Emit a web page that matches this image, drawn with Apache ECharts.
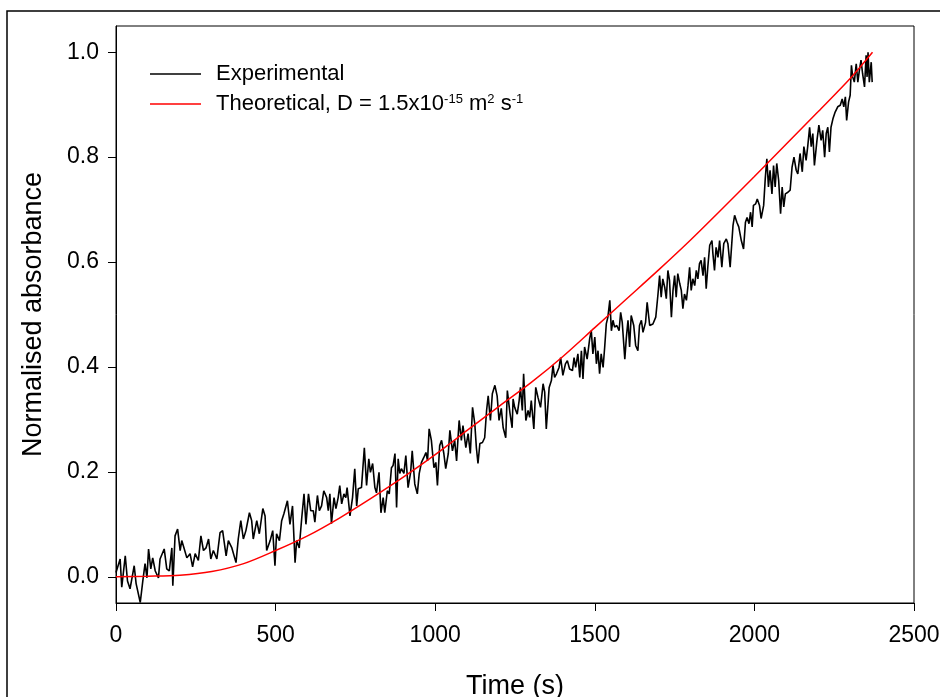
<!DOCTYPE html>
<html>
<head>
<meta charset="utf-8">
<title>Normalised absorbance vs time</title>
<script src="https://cdn.jsdelivr.net/npm/echarts@6/dist/echarts.min.js"></script>
<style>
  html, body { margin: 0; padding: 0; background: #fff; }
  #chart { width: 940px; height: 697px; }
</style>
</head>
<body>
<div id="chart"></div>
<script>
// measured absorbance, [time (s), normalised absorbance]
const expPoints = [
  [0, 0.008], [13, 0.034], [18, -0.02], [29, 0.04], [36, -0.008], [44, -0.023], [57, 0.021], [63, -0.013], [76, -0.049], [84, -0.008],
  [91, 0.025], [97, -0.002], [102, 0.053], [109, 0.015], [115, 0.036], [123, 0.011], [133, -0.002], [138, 0.034], [151, 0.053], [159, 0.015],
  [167, 0.011], [175, 0.055], [178, -0.017], [185, 0.078], [193, 0.091], [201, 0.05], [206, 0.069], [213, 0.055], [222, 0.036], [232, 0.044],
  [240, 0.019], [248, 0.044], [258, 0.031], [266, 0.078], [274, 0.05], [282, 0.055], [290, 0.072], [297, 0.034], [305, 0.05], [316, 0.034],
  [326, 0.084], [334, 0.088], [345, 0.04], [352, 0.069], [363, 0.055], [376, 0.027], [383, 0.072], [391, 0.107], [399, 0.072], [407, 0.088],
  [418, 0.122], [425, 0.107], [430, 0.072], [441, 0.107], [449, 0.082], [460, 0.13], [467, 0.116], [472, 0.05], [483, 0.069], [491, 0.088],
  [498, 0.021], [503, 0.082], [512, 0.069], [519, 0.107], [526, 0.12], [537, 0.145], [545, 0.1], [553, 0.135], [561, 0.027], [566, 0.069],
  [574, 0.055], [582, 0.113], [589, 0.158], [595, 0.1], [603, 0.158], [610, 0.126],
  [618, 0.126], [623, 0.104], [631, 0.155], [637, 0.126], [644, 0.135], [651, 0.164], [660, 0.151], [665, 0.126], [670, 0.158], [675, 0.101],
  [683, 0.151], [689, 0.13], [696, 0.151], [701, 0.174], [707, 0.139], [714, 0.158], [720, 0.151], [724, 0.17], [733, 0.116], [741, 0.151],
  [748, 0.206], [754, 0.135], [759, 0.168], [769, 0.17], [778, 0.246], [785, 0.174], [792, 0.225], [797, 0.199], [804, 0.216], [811, 0.17],
  [816, 0.16], [824, 0.199], [830, 0.122], [837, 0.151], [842, 0.122], [850, 0.164], [856, 0.158], [863, 0.208], [868, 0.212], [874, 0.235],
  [879, 0.132], [884, 0.225], [889, 0.197], [894, 0.206], [902, 0.197], [908, 0.231], [915, 0.17], [923, 0.199], [928, 0.24], [936, 0.177],
  [944, 0.158], [950, 0.197], [957, 0.218], [964, 0.227], [971, 0.237], [976, 0.221], [981, 0.282], [988, 0.26], [996, 0.208], [1002, 0.218],
  [1007, 0.174], [1014, 0.25], [1020, 0.26], [1027, 0.235], [1033, 0.206], [1041, 0.235], [1046, 0.279], [1054, 0.24], [1061, 0.26], [1067, 0.221],
  [1075, 0.298], [1082, 0.26], [1087, 0.288], [1096, 0.246], [1103, 0.273], [1110, 0.235], [1117, 0.323], [1124, 0.292], [1129, 0.246], [1134, 0.216],
  [1140, 0.254], [1148, 0.256], [1155, 0.265], [1161, 0.317], [1166, 0.345], [1173, 0.298], [1179, 0.349], [1187, 0.365], [1194, 0.345], [1200, 0.298],
  [1207, 0.321], [1213, 0.284], [1221, 0.265], [1226, 0.355], [1234, 0.313], [1241, 0.284],
  [1244, 0.339], [1249, 0.323], [1257, 0.31], [1263, 0.336], [1267, 0.361], [1273, 0.317], [1277, 0.387], [1284, 0.298], [1291, 0.317], [1296, 0.304],
  [1301, 0.336], [1309, 0.282], [1315, 0.361], [1322, 0.342], [1330, 0.323], [1338, 0.368], [1343, 0.352], [1348, 0.282], [1357, 0.361], [1364, 0.374],
  [1369, 0.403], [1374, 0.38], [1380, 0.387], [1388, 0.399], [1393, 0.418], [1400, 0.384], [1408, 0.406], [1414, 0.412], [1421, 0.396], [1430, 0.393],
  [1435, 0.418], [1440, 0.399], [1447, 0.425], [1453, 0.38], [1458, 0.431], [1463, 0.377], [1468, 0.438], [1476, 0.415], [1484, 0.454], [1489, 0.469],
  [1494, 0.425], [1500, 0.457], [1505, 0.406], [1510, 0.431], [1515, 0.387], [1520, 0.425], [1526, 0.399], [1531, 0.438], [1536, 0.482], [1541, 0.495],
  [1547, 0.527], [1552, 0.469], [1557, 0.489], [1562, 0.476], [1569, 0.479], [1576, 0.469], [1581, 0.504], [1586, 0.485], [1594, 0.415], [1599, 0.457],
  [1604, 0.489], [1609, 0.438], [1614, 0.498], [1622, 0.479], [1628, 0.441], [1635, 0.431], [1640, 0.479], [1646, 0.489], [1651, 0.466], [1659, 0.485],
  [1664, 0.523], [1672, 0.479], [1677, 0.476], [1682, 0.482], [1691, 0.495], [1698, 0.539], [1703, 0.574], [1708, 0.533], [1713, 0.568], [1719, 0.552],
  [1724, 0.53], [1729, 0.584], [1734, 0.565], [1740, 0.495], [1745, 0.546], [1750, 0.574], [1755, 0.533], [1760, 0.578], [1766, 0.559], [1771, 0.546],
  [1776, 0.511], [1781, 0.539], [1787, 0.527], [1792, 0.555], [1797, 0.59], [1802, 0.546], [1807, 0.568], [1813, 0.555], [1818, 0.584], [1823, 0.568],
  [1828, 0.597], [1833, 0.603], [1839, 0.574], [1844, 0.609], [1849, 0.549], [1854, 0.59], [1860, 0.632], [1867, 0.641],
  [1870, 0.616], [1875, 0.584], [1880, 0.628], [1886, 0.609], [1891, 0.641], [1898, 0.59], [1904, 0.635], [1912, 0.644], [1917, 0.635], [1924, 0.59],
  [1933, 0.67], [1938, 0.689], [1945, 0.676], [1951, 0.667], [1959, 0.641], [1966, 0.625], [1972, 0.676], [1977, 0.685], [1983, 0.673], [1988, 0.695],
  [1993, 0.667], [1997, 0.708], [2004, 0.711], [2009, 0.72], [2016, 0.708], [2021, 0.683], [2029, 0.708], [2034, 0.759], [2039, 0.797], [2044, 0.743],
  [2049, 0.775], [2055, 0.73], [2060, 0.784], [2065, 0.743], [2070, 0.788], [2076, 0.756], [2082, 0.692], [2087, 0.743], [2092, 0.705], [2097, 0.73],
  [2105, 0.733], [2112, 0.737], [2118, 0.781], [2124, 0.8], [2131, 0.775], [2136, 0.768], [2143, 0.807], [2150, 0.772], [2155, 0.82], [2162, 0.794],
  [2167, 0.82], [2173, 0.857], [2178, 0.82], [2183, 0.845], [2188, 0.784], [2196, 0.832], [2202, 0.861], [2209, 0.832], [2214, 0.851], [2220, 0.8],
  [2225, 0.845], [2230, 0.857], [2235, 0.81], [2240, 0.857], [2246, 0.873], [2253, 0.886], [2261, 0.896], [2269, 0.899], [2275, 0.911], [2280, 0.896],
  [2285, 0.915], [2289, 0.87], [2295, 0.905], [2300, 0.918], [2304, 0.975], [2308, 0.953], [2313, 0.943], [2319, 0.978], [2324, 0.943], [2329, 0.966],
  [2334, 0.985], [2339, 0.959], [2345, 0.934], [2350, 0.994], [2353, 0.953], [2356, 1.0], [2360, 0.943], [2366, 0.981], [2369, 0.943]
]

// model curve, D = 1.5e-15 m2/s
const theoTime = [0, 100, 200, 300, 400, 500, 600, 700, 800, 900, 1000, 1100, 1200,
  1300, 1400, 1500, 1600, 1700, 1800, 1900, 2000, 2100, 2200, 2300, 2370]
const theoAbs = [0, 0.001, 0.003, 0.01, 0.025, 0.05, 0.078, 0.112, 0.15, 0.19, 0.233, 0.279, 0.325,
  0.37, 0.42, 0.475, 0.53, 0.585, 0.642, 0.702, 0.763, 0.825, 0.887, 0.95, 1.0]

const yTicks = [0, 0.2, 0.4, 0.6, 0.8, 1.0]

const FONT = 'Liberation Sans, Arial, Helvetica, sans-serif'

const legendLabels = {
  Experimental: 'Experimental',
  Theoretical: 'Theoretical, D = 1.5x10{sup|-15} m{sup|2} s{sup|-1}'
}

const chart = echarts.init(document.getElementById('chart'), null, { renderer: 'canvas' })

chart.setOption({
  backgroundColor: '#fff',
  animation: false,
  graphic: [{
    // outer frame of the figure, runs off the right and bottom edges
    type: 'rect',
    shape: { x: 7, y: 11, width: 1000, height: 1000 },
    style: { fill: 'none', stroke: '#000', lineWidth: 1.5 },
    silent: true
  }],
  grid: {
    left: 116,
    top: 26,
    right: 26,
    bottom: 94,
    outerBoundsMode: 'none',
    show: true,
    borderColor: '#000',
    borderWidth: 1,
    backgroundColor: 'transparent'
  },
  legend: {
    orient: 'vertical',
    left: 150,
    top: 63,
    padding: 0,
    icon: 'rect',
    itemWidth: 51,
    itemHeight: 1.5,
    itemGap: 8,
    data: ['Experimental', 'Theoretical'],
    formatter: name => legendLabels[name],
    textStyle: {
      color: '#000',
      fontFamily: FONT,
      fontSize: 22,
      lineHeight: 22,
      padding: [0, 0, 0, 10],
      rich: {
        sup: { fontSize: 13, lineHeight: 22, fontFamily: FONT, color: '#000', verticalAlign: 'top', padding: [0, 0, 10, 0] }
      }
    }
  },
  xAxis: {
    type: 'value',
    min: 0,
    max: 2500,
    interval: 500,
    name: 'Time (s)',
    nameLocation: 'middle',
    nameGap: 70,
    nameTextStyle: { color: '#000', fontFamily: FONT, fontSize: 27, verticalAlign: 'top' },
    axisLine: { onZero: false, lineStyle: { color: '#000', width: 1 } },
    axisTick: { show: true, inside: false, length: 8, lineStyle: { color: '#000', width: 1 } },
    axisLabel: { color: '#000', fontFamily: FONT, fontSize: 23, margin: 21, formatter: v => String(v) },
    splitLine: { show: false }
  },
  yAxis: {
    type: 'value',
    min: -0.05,
    max: 1.05,
    name: 'Normalised absorbance',
    nameLocation: 'middle',
    nameGap: 69,
    nameTextStyle: { color: '#000', fontFamily: FONT, fontSize: 27 },
    axisLine: { onZero: false, lineStyle: { color: '#000', width: 1 } },
    axisTick: { show: true, inside: false, length: 8, customValues: yTicks, lineStyle: { color: '#000', width: 1 } },
    axisLabel: {
      color: '#000',
      fontFamily: FONT,
      fontSize: 23,
      margin: 17,
      customValues: yTicks,
      formatter: v => v.toFixed(1)
    },
    splitLine: { show: false }
  },
  series: [
    {
      name: 'Experimental',
      type: 'line',
      data: expPoints,
      symbol: 'none',
      lineStyle: { color: '#000', width: 1.6 },
      itemStyle: { color: '#000' },
      z: 2
    },
    {
      name: 'Theoretical',
      type: 'line',
      data: theoTime.map((t, i) => [t, theoAbs[i]]),
      symbol: 'none',
      smooth: 0.3,
      lineStyle: { color: '#ff0000', width: 1.5 },
      itemStyle: { color: '#ff0000' },
      z: 3
    }
  ]
})
</script>
</body>
</html>
